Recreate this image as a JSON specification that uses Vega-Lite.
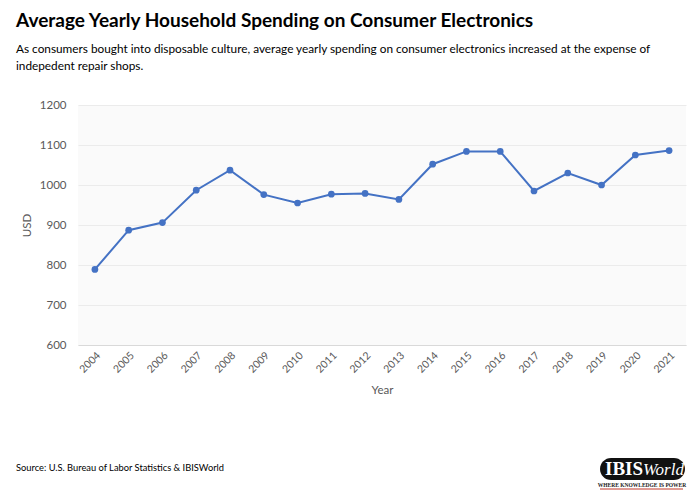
{
  "$schema": "https://vega.github.io/schema/vega-lite/v6.json",
  "background": "white",
  "padding": {"left": 16, "top": 11, "right": 12, "bottom": 13},
  "autosize": {"type": "pad"},
  "title": {
    "text": "Average Yearly Household Spending on Consumer Electronics",
    "subtitle": [
      "As consumers bought into disposable culture, average yearly spending on consumer electronics increased at the expense of",
      "indepedent repair shops."
    ],
    "anchor": "start",
    "frame": "group",
    "dx": -62,
    "font": "Lato",
    "fontSize": 19,
    "fontWeight": "bold",
    "color": "#000000",
    "subtitleFont": "Lato",
    "subtitleFontSize": 11.8,
    "subtitleColor": "#000000",
    "subtitlePadding": 13,
    "subtitleLineHeight": 17.5,
    "offset": 26
  },
  "bounds": "flush",
  "spacing": 104,
  "config": {"view": {"stroke": null}, "font": "Lato"},
  "vconcat": [
    {
      "width": 608,
      "height": 240,
      "view": {"fill": "#fafafa", "stroke": null},
      "data": {
        "values": [
          {"year": "2004", "usd": 789},
          {"year": "2005", "usd": 887},
          {"year": "2006", "usd": 906},
          {"year": "2007", "usd": 987},
          {"year": "2008", "usd": 1037},
          {"year": "2009", "usd": 976},
          {"year": "2010", "usd": 955},
          {"year": "2011", "usd": 977},
          {"year": "2012", "usd": 979},
          {"year": "2013", "usd": 964},
          {"year": "2014", "usd": 1052},
          {"year": "2015", "usd": 1084},
          {"year": "2016", "usd": 1084},
          {"year": "2017", "usd": 985},
          {"year": "2018", "usd": 1030},
          {"year": "2019", "usd": 1000},
          {"year": "2020", "usd": 1075},
          {"year": "2021", "usd": 1086}
        ]
      },
      "mark": {
        "type": "line",
        "color": "#4472C4",
        "strokeWidth": 2,
        "point": {"filled": true, "size": 45, "color": "#4472C4"}
      },
      "encoding": {
        "x": {
          "field": "year",
          "type": "ordinal",
          "scale": {"type": "point", "padding": 0.5},
          "axis": {
            "title": "Year",
            "titleFont": "Lato",
            "titleFontSize": 11.5,
            "titleFontWeight": "normal",
            "titleColor": "#595959",
            "titlePadding": 10,
            "labelAngle": -45,
            "labelFont": "Lato",
            "labelFontSize": 10.5,
            "labelColor": "#595959",
            "labelPadding": 5,
            "ticks": false,
            "domain": true,
            "domainColor": "#d9d9d9",
            "grid": false
          }
        },
        "y": {
          "field": "usd",
          "type": "quantitative",
          "scale": {"domain": [600, 1200], "nice": false, "zero": false},
          "axis": {
            "title": "USD",
            "titleFont": "Lato",
            "titleFontSize": 11.5,
            "titleFontWeight": "normal",
            "titleColor": "#595959",
            "titlePadding": 7,
            "values": [600, 700, 800, 900, 1000, 1100, 1200],
            "format": "d",
            "labelFont": "Lato",
            "labelFontSize": 11.5,
            "labelColor": "#595959",
            "labelPadding": 12,
            "ticks": false,
            "domain": false,
            "grid": true,
            "gridColor": "#ebebeb"
          }
        }
      }
    },
    {
      "width": 608,
      "height": 40,
      "data": {
        "values": [
          {"kind": "source", "part": "source", "label": "Source: U.S. Bureau of Labor Statistics & IBISWorld"},
          {"kind": "logo", "part": "pill", "label": ""},
          {"kind": "logo", "part": "ibis", "label": "IBIS"},
          {"kind": "logo", "part": "world", "label": "World"},
          {"kind": "logo", "part": "tagline", "label": "WHERE KNOWLEDGE IS POWER"},
          {"kind": "logo", "part": "underline", "label": ""}
        ]
      },
      "encoding": {
        "x": {
          "field": "kind",
          "type": "nominal",
          "scale": {"type": "point", "domain": ["source", "logo"], "padding": 0},
          "axis": null
        }
      },
      "layer": [
        {
          "transform": [{"filter": "datum.part === 'source'"}],
          "mark": {"type": "text", "align": "left", "baseline": "middle", "xOffset": -62, "yOffset": -1, "font": "Lato", "fontSize": 9.3, "color": "#000000"},
          "encoding": {"text": {"field": "label"}}
        },
        {
          "transform": [{"filter": "datum.part === 'pill'"}],
          "mark": {
            "type": "point",
            "shape": "M-1.48,-0.52L1.48,-0.52A0.52,0.52,0,0,1,1.48,0.52L-1.48,0.52A0.52,0.52,0,0,1,-1.48,-0.52Z",
            "filled": true,
            "color": "#111111",
            "opacity": 1,
            "size": 1806,
            "xOffset": -43.5,
            "yOffset": 0
          }
        },
        {
          "transform": [{"filter": "datum.part === 'ibis'"}],
          "mark": {"type": "text", "align": "left", "baseline": "alphabetic", "xOffset": -81, "yOffset": 6, "font": "Liberation Serif", "fontSize": 19, "fontWeight": "bold", "color": "#ffffff"},
          "encoding": {"text": {"field": "label"}}
        },
        {
          "transform": [{"filter": "datum.part === 'world'"}],
          "mark": {"type": "text", "align": "left", "baseline": "alphabetic", "xOffset": -43, "yOffset": 6, "font": "Liberation Serif", "fontSize": 17, "fontStyle": "italic", "color": "#ffffff"},
          "encoding": {"text": {"field": "label"}}
        },
        {
          "transform": [{"filter": "datum.part === 'tagline'"}],
          "mark": {"type": "text", "align": "center", "baseline": "middle", "xOffset": -44, "yOffset": 16, "font": "Liberation Serif", "fontSize": 5.5, "fontWeight": "bold", "color": "#222222"},
          "encoding": {"text": {"field": "label"}}
        },
        {
          "transform": [{"filter": "datum.part === 'underline'"}],
          "mark": {"type": "rule", "color": "#c0392b", "strokeWidth": 1, "xOffset": -86, "x2Offset": -3, "yOffset": 20},
          "encoding": {"x2": {"datum": "logo"}}
        }
      ]
    }
  ]
}
